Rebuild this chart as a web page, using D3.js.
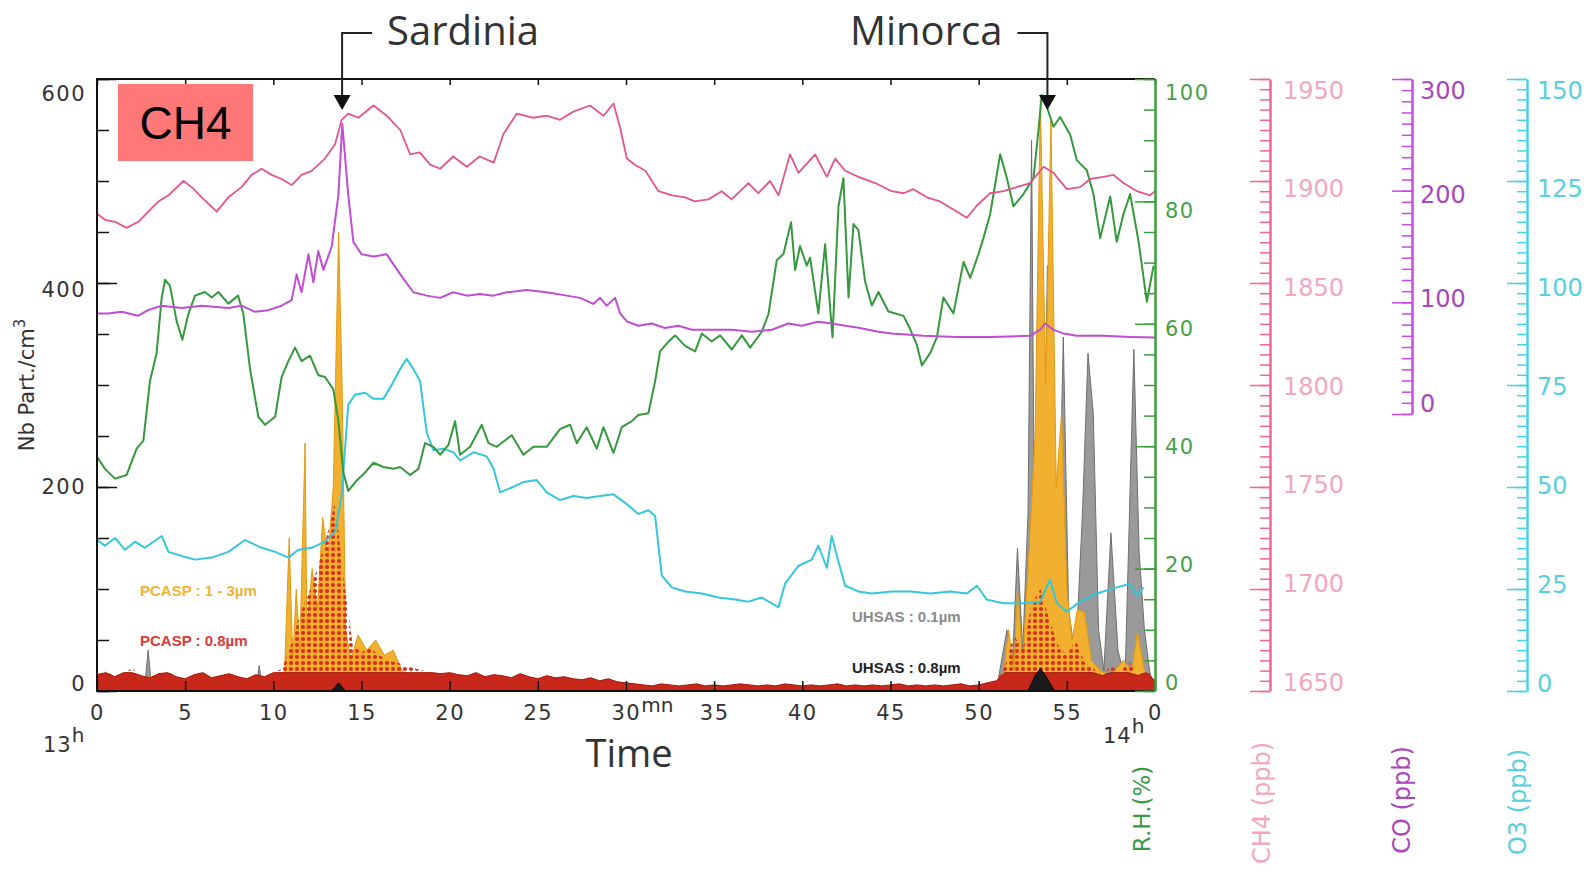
<!DOCTYPE html>
<html>
<head>
<meta charset="utf-8">
<title>CH4 - Sardinia / Minorca flight leg</title>
<style>
body { margin: 0; background: #fff; }
svg { display: block; }
.num { font-family: "DejaVu Sans", sans-serif; }
.title { font-family: "Open Sans", sans-serif; fill: #333; }
.legend { font-family: "Liberation Sans", Arial, sans-serif; font-weight: bold; font-size: 15px; }
</style>
<script src="https://cdn.jsdelivr.net/npm/d3@7"></script>
</head>
<body>
<svg id="chart" width="1588" height="878"></svg>
<script>
"use strict";

// time axis: minutes after 13h
var xTicks = [0, 5, 10, 15, 20, 25, 30, 35, 40, 45, 50, 55, 60];
var xTickLabels = ["0", "5", "10", "15", "20", "25", "30", "35", "40", "45", "50", "55", "0"];

var partTicks = [0, 200, 400, 600];
var rhTicks = [0, 20, 40, 60, 80, 100];
var ch4Ticks = [1650, 1700, 1750, 1800, 1850, 1900, 1950];
var coTicks = [0, 100, 200, 300];
var o3Ticks = [0, 25, 50, 75, 100, 125, 150];

var places = ["Sardinia", "Minorca"];
var placeTimes = [13.9, 53.9];

// CH4 (ppb)
var ch4Time = [0, 0.45, 1.02, 1.68, 2.34, 2.91, 3.48, 4.05, 4.9, 5.37, 5.94, 6.79, 7.45, 8.2, 8.77, 9.34, 9.9, 10.47, 11.04, 11.6,
  12.17, 12.93, 13.5, 13.87, 14.25, 14.82, 15.68, 16.43, 17.2, 17.76, 18.3, 18.9, 19.46, 20.2, 20.97, 21.7, 22.5, 23.05, 23.8, 24.75,
  25.5, 26.26, 27.02, 27.96, 28.72, 29.29, 29.67, 30.05, 30.5, 31.1, 31.84, 32.6, 33.35, 33.9, 34.67, 35.43, 35.99, 36.94, 37.5, 38.17,
  38.65, 39.3, 39.78, 40.73, 41.39, 41.86, 42.43, 43.18, 44.13, 45.07, 45.74, 46.3, 47.06, 47.8, 48.57, 49.33, 49.9, 50.65, 51.41, 52.16,
  52.92, 53.68, 54.24, 55.0, 55.76, 56.32, 57.08, 57.65, 58.21, 58.97, 59.72, 60];
var ch4Val = [1884, 1881, 1880, 1877, 1880, 1885, 1890, 1893, 1900, 1897, 1892, 1885, 1892, 1897, 1903, 1906, 1903, 1901, 1898, 1903,
  1905, 1911, 1918, 1930, 1933, 1931, 1937, 1932, 1925, 1913, 1914, 1908, 1906, 1912, 1907, 1912, 1909, 1923, 1933, 1931,
  1932, 1930, 1934, 1937, 1932, 1938, 1926, 1911, 1908, 1905, 1895, 1893, 1892, 1890, 1891, 1895, 1891, 1899, 1894, 1900,
  1893, 1913, 1904, 1913, 1902, 1911, 1905, 1902, 1899, 1895, 1894, 1896, 1892, 1890, 1886, 1882, 1888, 1894, 1895, 1897,
  1899, 1907, 1904, 1896, 1897, 1901, 1902, 1903, 1899, 1895, 1893, 1895];

// CO (ppb)
var coTime = [0, 0.64, 1.4, 2.34, 2.9, 3.67, 4.8, 5.94, 7.45, 8.2, 8.96, 9.72, 10.47, 11.04, 11.32, 11.6, 11.99, 12.27, 12.55, 12.84,
  13.31, 13.69, 13.91, 14.25, 14.54, 15.01, 15.68, 16.43, 17.2, 17.94, 18.7, 19.46, 20.2, 20.97, 21.72, 22.48, 23.24, 24.37, 25.5, 26.64,
  27.4, 28.15, 28.53, 28.9, 29.38, 29.67, 30.05, 30.7, 31.46, 32.2, 32.97, 33.73, 34.86, 36, 37.13, 38.27, 39.2, 39.97, 40.9, 41.67,
  42.43, 43.18, 44.32, 45.07, 46.87, 48.76, 50.65, 52.92, 53.49, 53.77, 54.24, 54.81, 55.57, 57.08, 58.59, 60];
var coVal = [90, 90, 91.5, 88, 93, 97, 95, 97, 95, 97, 91.5, 93, 97, 102, 125, 109, 143, 118, 146, 129,
  150, 196, 260, 196, 154, 143, 141, 143, 125, 109, 106, 104, 109, 106, 107.5, 106, 109, 111, 109, 106,
  104, 98.6, 104, 97, 104, 90, 83, 79, 81, 77, 79, 75.5, 75.5, 75.5, 73.7, 75.5, 81, 79, 82.6, 81,
  79, 77.3, 73.7, 72, 70, 69, 69, 70, 75.5, 81, 75.5, 72, 70, 70, 69, 68.4];

// relative humidity (%)
var rhTime = [0, 0.45, 1.02, 1.68, 2.25, 2.63, 3.0, 3.38, 3.67, 3.86, 4.14, 4.52, 4.84, 5.18, 5.56, 6.12, 6.5, 6.88, 7.45, 8.0,
  8.3, 8.68, 9.15, 9.53, 10.1, 10.47, 10.85, 11.23, 11.6, 12.08, 12.55, 12.93, 13.4, 13.69, 13.97, 14.25, 14.73, 15.2, 15.68, 16.24,
  16.81, 17.19, 17.76, 18.23, 18.6, 19.08, 19.46, 19.93, 20.31, 20.59, 21.16, 21.82, 22.2, 22.67, 23.52, 24.18, 24.75, 25.5, 26.26, 26.83,
  27.21, 27.77, 28.34, 28.72, 29.29, 29.76, 30.33, 30.7, 31.27, 31.65, 31.93, 32.41, 32.79, 33.35, 33.92, 34.3, 34.86, 35.34, 36.0, 36.57,
  37.04, 37.7, 38.08, 38.55, 38.93, 39.36, 39.59, 39.87, 40.25, 40.44, 40.91, 41.29, 41.71, 42.05, 42.33, 42.62, 42.9, 43.18, 43.56, 43.94,
  44.32, 44.88, 45.74, 46.12, 46.5, 46.78, 47.25, 47.63, 48.0, 48.57, 49.14, 49.52, 49.99, 50.27, 50.65, 51.22, 51.6, 51.97, 52.54, 53.11,
  53.39, 53.58, 53.86, 54.24, 54.62, 55.19, 55.57, 56.13, 56.51, 56.89, 57.46, 57.83, 58.21, 58.59, 59.07, 59.54, 59.92];
var rhVal = [38.3, 36.3, 34.7, 35.3, 39.6, 40.9, 50.6, 55.2, 64.3, 67.2, 66.2, 60.4, 57.4, 61.6, 64.6, 65.2, 64.3, 65.2, 63.3, 64.6,
  61.6, 52.6, 44.8, 43.5, 44.8, 51.3, 53.9, 56.1, 53.9, 54.8, 51.6, 51.3, 49.3, 44.1, 35.7, 32.7, 34.4, 35.7, 37.3, 36.6,
  36.3, 36.6, 35.3, 36.3, 40.5, 39.9, 38.6, 40.2, 44.1, 38.6, 39.9, 43.5, 40.5, 39.9, 41.8, 38.6, 39.9, 39.9, 42.8, 43.5,
  40.5, 43.1, 39.6, 43.1, 38.9, 43.1, 44.1, 45.1, 45.4, 50.6, 55.5, 57.1, 58.1, 56.4, 55.5, 58.4, 57.1, 58.1, 55.8, 58.1,
  56.1, 58.7, 61.6, 70.4, 71.4, 76.6, 68.8, 72.7, 69.5, 70.8, 61.7, 73.0, 57.8, 79.2, 83.8, 64.3, 76.3, 75.3, 66.9, 63.0,
  65.2, 62.0, 61.3, 59.1, 56.5, 53.2, 55.2, 57.8, 64.3, 61.7, 70.1, 67.5, 71.4, 74.0, 77.9, 87.7, 83.8, 79.2, 81.2, 83.8,
  91.6, 97.4, 95.5, 92.2, 93.8, 90.9, 86.7, 85.1, 81.2, 74.0, 80.8, 73.4, 77.9, 81.2, 73.4, 63.6, 69.5];

// O3 (ppb)
var o3Time = [0, 0.45, 1.02, 1.59, 2.15, 2.72, 3.67, 4.05, 4.8, 5.56, 6.5, 7.45, 8.39, 9.34, 10.1, 10.85, 11.42, 12.17, 12.93, 13.5,
  13.87, 14.25, 14.63, 15.2, 15.68, 16.24, 16.71, 17.19, 17.56, 17.94, 18.32, 18.7, 19.08, 19.65, 20.21, 20.59, 21.35, 22.1, 22.48, 22.86,
  23.43, 24.18, 24.94, 25.5, 26.26, 27.02, 27.77, 28.53, 29.29, 30.05, 30.7, 31.27, 31.65, 32.03, 32.6, 33.35, 34.3, 35.24, 36.19, 36.94,
  37.7, 38.65, 39.02, 39.78, 40.54, 40.91, 41.39, 41.67, 42.05, 42.43, 43.18, 43.94, 45.07, 46.12, 47.25, 48.38, 49.33, 49.9, 50.46, 51.41,
  52.54, 53.49, 54.05, 54.43, 55.0, 55.76, 56.7, 57.83, 58.59, 58.97, 59.35];
var o3Val = [37.0, 35.6, 37.5, 34.6, 36.6, 35.1, 38.0, 34.1, 33.1, 32.2, 32.7, 34.1, 37.0, 35.1, 34.1, 32.7, 34.6, 35.1, 36.6, 39.0,
  47.8, 70.2, 72.6, 73.1, 71.6, 71.6, 75.0, 78.9, 81.4, 78.9, 76.0, 63.3, 59.0, 59.4, 58.5, 56.5, 58.5, 57.5, 54.6, 48.7,
  49.7, 51.2, 51.7, 48.7, 46.8, 47.8, 47.3, 47.8, 48.2, 45.8, 43.4, 44.3, 42.9, 28.3, 25.4, 24.4, 23.9, 22.9, 22.4, 21.9,
  22.9, 20.5, 26.3, 30.7, 32.2, 35.6, 30.2, 38.0, 31.7, 25.8, 24.4, 23.9, 24.4, 24.4, 23.9, 24.4, 23.9, 25.8, 22.4, 21.5,
  21.5, 21.9, 27.3, 21.5, 19.5, 21.9, 23.9, 25.4, 26.3, 23.4, 25.4];

// PCASP 0.8 um (particles / cm3), every 0.5 min from 0 to 60
var pcaspFineVal = [16, 20, 14, 18, 22, 15, 13, 17, 19, 14, 12, 16, 18, 13, 15, 17, 14, 12, 16, 14, 18, 22,
  45, 75, 95, 120, 150, 185, 110, 45,
  38, 42, 35, 30, 28, 25, 22, 20, 18, 17, 19, 16, 15, 18, 14, 16, 15, 13, 17, 14, 12, 15, 13, 14, 12, 11, 13, 10, 12, 9, 8,
  7, 6, 5, 7, 6, 5, 6, 7, 5, 6, 5, 6, 7, 6, 5, 6, 5, 7, 6, 5, 6, 5, 6, 7, 5, 6, 5, 6, 5, 6, 7, 5, 6, 5, 6, 5, 6, 7, 5, 6, 8, 10,
  25, 55, 40, 85, 100, 70, 45, 35, 50, 28, 22, 15, 25, 18, 30, 15, 20, 10];
var pcaspFineTime = d3.range(pcaspFineVal.length).map(function(i) { return i * 0.5; });

// PCASP 1 - 3 um
var pcaspCoarseTime = [0, 2.5, 3, 3.5, 6, 6.5, 10.6, 10.9, 11.1, 11.3, 11.5, 11.8, 11.9, 12.2, 12.5, 12.8, 13.1, 13.4, 13.7, 13.9,
  14.1, 14.4, 14.8, 15.3, 15.8, 16.3, 16.8, 17.3, 18, 19, 20, 51.3, 51.7, 52.0, 52.2, 52.5, 52.9, 53.2, 53.5, 53.8,
  54.1, 54.4, 54.7, 55.0, 55.3, 55.6, 56.0, 56.4, 56.9, 57.5, 58.2, 58.7, 59.0, 59.4, 59.8, 60];
var pcaspCoarseVal = [0, 0, 15, 0, 0, 8, 0, 150, 30, 100, 40, 243, 60, 120, 80, 170, 130, 200, 450, 300,
  60, 30, 55, 40, 50, 35, 40, 20, 10, 5, 0, 0, 60, 20, 100, 30, 150, 250, 580, 300,
  560, 200, 272, 100, 50, 80, 77, 30, 20, 15, 30, 20, 58, 20, 10, 0];

// UHSAS 0.1 um
var uhsasFineTime = [0, 2.7, 2.9, 3.1, 9, 9.2, 9.4, 13.4, 13.8, 14.2, 51, 51.6, 51.9, 52.2, 52.5, 52.8, 53.0, 53.2, 53.4, 53.6,
  53.9, 54.1, 54.4, 54.8, 55.1, 55.5, 55.9, 56.2, 56.5, 56.8, 57.1, 57.5, 57.9, 58.3, 58.8, 59.1, 59.4, 59.7, 60];
var uhsasFineVal = [0, 3, 40, 3, 0, 25, 0, 0, 190, 0, 0, 60, 20, 140, 40, 175, 540, 60, 425, 90,
  417, 100, 20, 347, 80, 30, 180, 331, 272, 60, 20, 155, 40, 10, 335, 136, 60, 19, 0];

// UHSAS 0.8 um
var uhsasCoarseTime = [0, 13.3, 13.7, 14.1, 52.8, 53.2, 53.5, 53.9, 54.3, 60];
var uhsasCoarseVal = [0, 0, 8, 0, 0, 15, 22, 12, 0, 0];

// ---------------------------------------------------------------
var plot = {left: 97, right: 1155, top: 79, bottom: 691};

var svg = d3.select("#chart");
svg.append("rect").attr("width", 1588).attr("height", 878).attr("fill", "#fff");

var x = d3.scaleLinear().domain([0, 60]).range([plot.left, plot.right]);
var yPart = d3.scaleLinear().domain([0, 600]).range([plot.bottom, plot.top]);
var yRH = d3.scaleLinear().domain([0, 100]).range([plot.bottom, plot.top]);
var yCH4 = d3.scaleLinear().domain([1650, 1950]).range([plot.bottom, plot.top]);
var yCO = d3.scaleLinear().domain([0, 300]).range([414, plot.top]);
var yO3 = d3.scaleLinear().domain([0, 150]).range([plot.bottom, plot.top]);

var defs = svg.append("defs");
defs.append("clipPath").attr("id", "clip")
  .append("rect")
    .attr("x", plot.left).attr("y", plot.top)
    .attr("width", plot.right - plot.left).attr("height", plot.bottom - plot.top);
// PCASP 0.8 um points were plotted as dense symbols: dotted fill
var dots = defs.append("pattern").attr("id", "reddots")
    .attr("width", 6).attr("height", 6).attr("patternUnits", "userSpaceOnUse");
dots.append("circle").attr("cx", 3).attr("cy", 3).attr("r", 2.1).attr("fill", "#d8301c");

var g = svg.append("g").attr("clip-path", "url(#clip)");

function area(times, vals, fill, stroke, cap) {
  var a = d3.area()
      .x(function(d) { return x(d[0]); })
      .y0(yPart(0))
      .y1(function(d) { return yPart(cap ? Math.min(d[1], cap) : d[1]); });
  g.append("path")
      .datum(d3.zip(times, vals))
      .attr("d", a)
      .attr("fill", fill)
      .attr("stroke", stroke)
      .attr("stroke-width", 1);
}

function line(times, vals, scale, color, width) {
  var l = d3.line()
      .x(function(d) { return x(d[0]); })
      .y(function(d) { return scale(d[1]); });
  g.append("path")
      .datum(d3.zip(times, vals))
      .attr("d", l)
      .attr("fill", "none")
      .attr("stroke", color)
      .attr("stroke-width", width)
      .attr("stroke-linejoin", "round");
}

area(uhsasFineTime, uhsasFineVal, "#9a9a9a", "#6e6e6e");
area(pcaspCoarseTime, pcaspCoarseVal, "#f2b030", "#e29a10");
area(pcaspFineTime, pcaspFineVal, "url(#reddots)", "none");
area(pcaspFineTime, pcaspFineVal, "#c8281a", "#a01808", 18);
area(uhsasCoarseTime, uhsasCoarseVal, "#1a1a1a", "#000");

line(o3Time, o3Val, yO3, "#36c6dc", 2);
line(rhTime, rhVal, yRH, "#34993c", 2);
line(ch4Time, ch4Val, yCH4, "#e2558f", 1.8);
line(coTime, coVal, yCO, "#c04ed2", 2);

// frame
svg.append("path")
    .attr("d", "M" + plot.right + "," + plot.top + "H" + plot.left + "V" + plot.bottom + "H" + plot.right)
    .attr("fill", "none").attr("stroke", "#111").attr("stroke-width", 2);

// x axes
var xBottom = svg.append("g")
    .attr("class", "num")
    .attr("transform", "translate(0," + plot.bottom + ")")
    .call(d3.axisBottom(x).tickValues(xTicks)
      .tickFormat(function(d, i) { return xTickLabels[i]; })
      .tickSizeInner(-10).tickSizeOuter(0).tickPadding(14));
xBottom.select(".domain").remove();
xBottom.selectAll("line").attr("stroke", "#111").attr("stroke-width", 1.5);
xBottom.selectAll("text").attr("font-size", 21).attr("fill", "#333").attr("letter-spacing", 1.5);

// the 30 min label carries the unit as a superscript
var t30 = xBottom.selectAll(".tick text").filter(function(d) { return d === 30; });
t30.attr("text-anchor", "start").attr("x", -15);
t30.append("tspan").attr("dy", "-0.4em").attr("font-size", 20).attr("letter-spacing", 0).text("mn");

var xTop = svg.append("g")
    .attr("transform", "translate(0," + plot.top + ")")
    .call(d3.axisTop(x).tickValues(xTicks).tickFormat("").tickSizeInner(-6).tickSizeOuter(0));
xTop.select(".domain").remove();
xTop.selectAll("line").attr("stroke", "#111").attr("stroke-width", 1.5);

var h13 = svg.append("text").attr("class", "num")
    .attr("x", 43).attr("y", 752).attr("font-size", 21).attr("fill", "#333").attr("letter-spacing", 1);
h13.append("tspan").text("13");
h13.append("tspan").attr("dy", -10).attr("font-size", 20).text("h");

var h14 = svg.append("text").attr("class", "num")
    .attr("x", 1103).attr("y", 743).attr("font-size", 21).attr("fill", "#333").attr("letter-spacing", 1);
h14.append("tspan").text("14");
h14.append("tspan").attr("dy", -10).attr("font-size", 20).text("h");

svg.append("text").attr("class", "title")
    .attr("x", 629).attr("y", 767).attr("text-anchor", "middle")
    .attr("font-size", 38).text("Time");

// vertical axes: ticks from d3 axes, labels placed with a label scale
function yAxis(opts) {
  var gen = opts.side === "left" ? d3.axisLeft(opts.scale) : d3.axisRight(opts.scale);
  var minor = svg.append("g")
      .attr("transform", "translate(" + opts.x + ",0)")
      .call(gen.tickValues(opts.minor).tickFormat("").tickSizeInner(-opts.minorLen).tickSizeOuter(0));
  minor.select(".domain").remove();
  minor.selectAll("line").attr("stroke", opts.color).attr("stroke-width", 1.5);
  var gen2 = opts.side === "left" ? d3.axisLeft(opts.scale) : d3.axisRight(opts.scale);
  var major = svg.append("g")
      .attr("transform", "translate(" + opts.x + ",0)")
      .call(gen2.tickValues(opts.ticks).tickFormat("").tickSizeInner(-opts.majorLen).tickSizeOuter(0));
  if (opts.line) {
    major.select(".domain").attr("stroke", opts.color).attr("stroke-width", 2.5);
  } else {
    major.select(".domain").remove();
  }
  major.selectAll("line").attr("stroke", opts.color).attr("stroke-width", 1.5);
  var lab = d3.scaleLinear().domain(opts.scale.domain()).range(opts.labelRange);
  svg.append("g").attr("class", "num")
    .selectAll("text").data(opts.ticks).join("text")
      .attr("x", opts.labelX)
      .attr("y", function(d) { return lab(d); })
      .attr("dy", "0.36em")
      .attr("text-anchor", opts.side === "left" ? "end" : "start")
      .attr("font-size", opts.fontSize)
      .attr("letter-spacing", opts.spacing)
      .attr("fill", opts.labelColor)
      .text(function(d) { return d; });
}

yAxis({side: "left", scale: yPart, x: plot.left, ticks: partTicks, minor: d3.range(0, 601, 50),
  majorLen: 20, minorLen: 12, color: "#111", labelX: 86, labelRange: [683, 93],
  fontSize: 21, spacing: 1.5, labelColor: "#333", line: false});

yAxis({side: "right", scale: yRH, x: plot.right, ticks: rhTicks, minor: d3.range(0, 101, 5),
  majorLen: 20, minorLen: 11, color: "#3a9e3a", labelX: 1165, labelRange: [682, 92],
  fontSize: 21, spacing: 1.5, labelColor: "#46a046", line: true});

yAxis({side: "right", scale: yCH4, x: 1270, ticks: ch4Ticks, minor: d3.range(1650, 1951, 5),
  majorLen: 20, minorLen: 10, color: "#f0669a", labelX: 1283, labelRange: [682, 90],
  fontSize: 24, spacing: 0, labelColor: "#f3a6c0", line: true});

yAxis({side: "right", scale: yCO, x: 1412, ticks: coTicks, minor: d3.range(0, 301, 10),
  majorLen: 20, minorLen: 10, color: "#c84ae4", labelX: 1420, labelRange: [403, 90],
  fontSize: 24, spacing: 0, labelColor: "#a848bc", line: true});

yAxis({side: "right", scale: yO3, x: 1527, ticks: o3Ticks, minor: d3.range(0, 151, 2.5),
  majorLen: 20, minorLen: 10, color: "#48d2e6", labelX: 1537, labelRange: [683, 90],
  fontSize: 24, spacing: 0, labelColor: "#58cfe0", line: true});

// axis titles
function vtitle(tx, ty, color, size, build) {
  var t = svg.append("text").attr("class", "num")
      .attr("transform", "translate(" + tx + "," + ty + ") rotate(-90)")
      .attr("text-anchor", "middle")
      .attr("font-size", size).attr("fill", color);
  build(t);
}
vtitle(34, 385, "#333", 21, function(t) {
  t.append("tspan").text("Nb Part./cm");
  t.append("tspan").attr("dy", -9).attr("font-size", 15).text("3");
});
vtitle(1150, 809, "#3a9a46", 23, function(t) { t.text("R.H.(%)"); });
vtitle(1270, 803, "#f3a6c0", 24, function(t) { t.text("CH4 (ppb)"); });
vtitle(1410, 800, "#a848bc", 24, function(t) { t.text("CO (ppb)"); });
vtitle(1526, 802, "#58cfe0", 24, function(t) { t.text("O3 (ppb)"); });

// instrument labels
svg.append("text").attr("class", "legend").attr("x", 140).attr("y", 596).attr("fill", "#f2b234").text("PCASP : 1 - 3\u00b5m");
svg.append("text").attr("class", "legend").attr("x", 140).attr("y", 646).attr("fill", "#d83a3a").text("PCASP : 0.8\u00b5m");
svg.append("text").attr("class", "legend").attr("x", 852).attr("y", 622).attr("fill", "#8a8a8a").text("UHSAS : 0.1\u00b5m");
svg.append("text").attr("class", "legend").attr("x", 852).attr("y", 673).attr("fill", "#222").text("UHSAS : 0.8\u00b5m");

// place markers
places.forEach(function(name, i) {
  var px = x(placeTimes[i]);
  var dir = i === 0 ? 1 : -1;
  svg.append("path")
      .attr("d", "M" + (px + dir * 30) + ",33H" + px + "V96")
      .attr("fill", "none").attr("stroke", "#222").attr("stroke-width", 2);
  svg.append("path")
      .attr("d", "M" + (px - 8.5) + ",95L" + (px + 8.5) + ",95L" + px + ",110Z")
      .attr("fill", "#111");
  svg.append("text").attr("class", "title")
      .attr("x", px + dir * 45).attr("y", 45)
      .attr("text-anchor", i === 0 ? "start" : "end")
      .attr("font-size", 40).text(name);
});

// CH4 tag
svg.append("rect").attr("x", 118).attr("y", 84).attr("width", 135).attr("height", 77).attr("fill", "#ff7878");
svg.append("text").attr("x", 185.5).attr("y", 139).attr("text-anchor", "middle")
    .attr("font-family", "Liberation Sans, Arial, sans-serif").attr("font-size", 46).attr("fill", "#000")
    .text("CH4");
</script>
</body>
</html>
